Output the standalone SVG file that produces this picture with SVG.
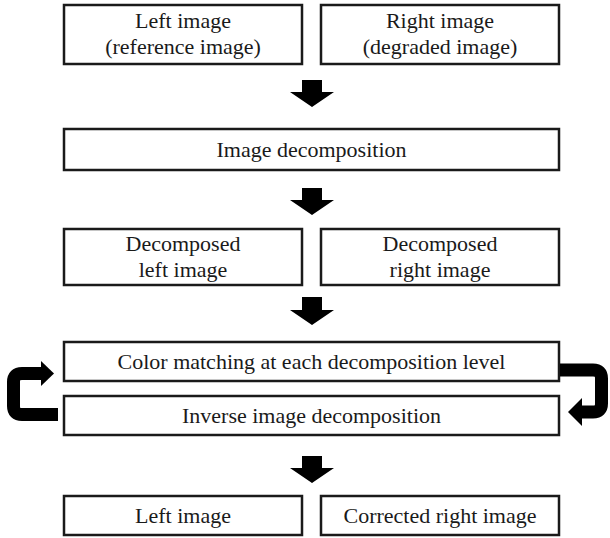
<svg xmlns="http://www.w3.org/2000/svg" width="610" height="538" viewBox="0 0 610 538">
<style>
.box{fill:#fff;stroke:#1a1a1a;stroke-width:2.5}
.t{font-family:"Liberation Serif","Times New Roman",serif;font-size:22px;fill:#1a1a1a;text-anchor:middle}
.arr{fill:#000}
.loop{fill:none;stroke:#000;stroke-width:13}
</style>
<rect width="610" height="538" fill="#fff"/>
<g id="left-image-in"><rect class="box" x="64" y="5" width="238" height="59"/><text class="t" x="183" y="28">Left image</text><text class="t" x="183" y="54">(reference image)</text></g>
<g id="right-image-in"><rect class="box" x="321" y="5" width="238" height="59"/><text class="t" x="440" y="28">Right image</text><text class="t" x="440" y="54">(degraded image)</text></g>
<g id="image-decomposition"><rect class="box" x="64" y="129" width="495" height="41"/><text class="t" x="311.5" y="157">Image decomposition</text></g>
<g id="decomposed-left"><rect class="box" x="64" y="229" width="238" height="56"/><text class="t" x="183" y="251">Decomposed</text><text class="t" x="183" y="277">left image</text></g>
<g id="decomposed-right"><rect class="box" x="321" y="229" width="238" height="56"/><text class="t" x="440" y="251">Decomposed</text><text class="t" x="440" y="277">right image</text></g>
<g id="color-matching"><rect class="box" x="64" y="342" width="495" height="39"/><text class="t" x="311.5" y="369">Color matching at each decomposition level</text></g>
<g id="inverse-decomposition"><rect class="box" x="64" y="396" width="495" height="39"/><text class="t" x="311.5" y="423">Inverse image decomposition</text></g>
<g id="left-image-out"><rect class="box" x="64" y="496" width="238" height="39"/><text class="t" x="183" y="523">Left image</text></g>
<g id="corrected-right"><rect class="box" x="321" y="496" width="238" height="39"/><text class="t" x="440" y="523">Corrected right image</text></g>
<g id="connectors">
<path class="arr" d="M302 80H322V92H334L312 107L290 92H302Z"/>
<path class="arr" d="M302 188H322V200H334L312 215L290 200H302Z"/>
<path class="arr" d="M302 297H322V310H334L312 325L290 310H302Z"/>
<path class="arr" d="M302 456H322V468H334L312 483L290 468H302Z"/>
<path class="loop" d="M58 414.5H22Q13.5 414.5 13.5 406V382Q13.5 373.5 22 373.5H42"/>
<path class="arr" d="M41 361L54 373.5L41 386Z"/>
<path class="loop" d="M560 370H593Q601.5 370 601.5 378.5V403.5Q601.5 412 593 412H581"/>
<path class="arr" d="M582 398L568 412L582 426Z"/>
</g>
</svg>
